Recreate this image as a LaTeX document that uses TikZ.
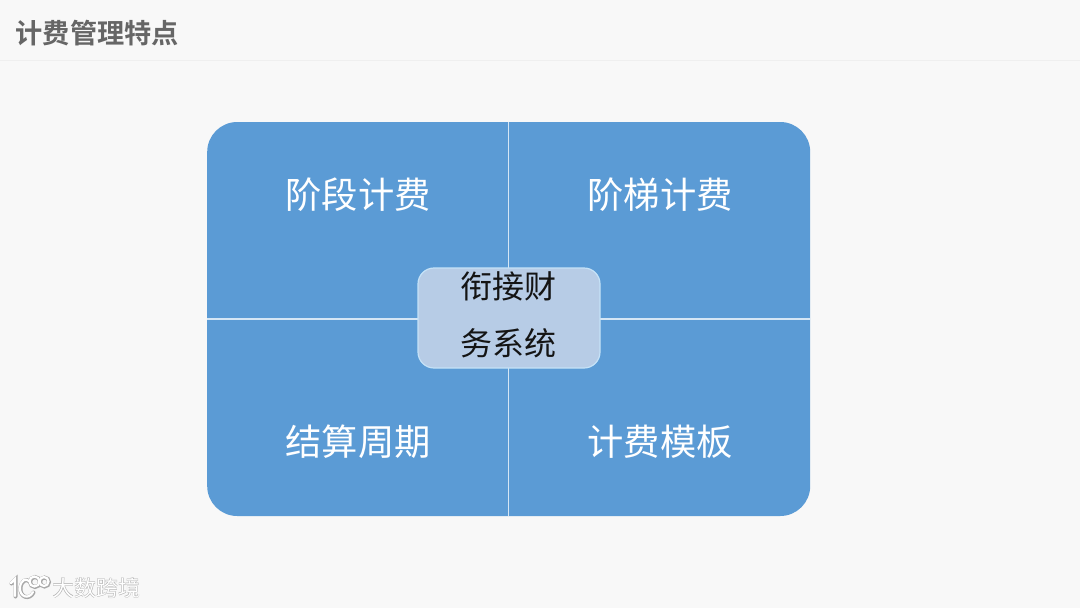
\documentclass[tikz,border=0pt]{standalone}
\usepackage{fontspec}
\newfontfamily\cjk{Noto Sans CJK SC}
\newfontfamily\cjkbold{Noto Sans CJK SC Bold}
\definecolor{bgc}{HTML}{F8F8F8}
\definecolor{rulec}{HTML}{EFEFEF}
\definecolor{titlec}{HTML}{666666}
\definecolor{panelc}{HTML}{5B9BD5}
\definecolor{crossc}{HTML}{D5E6F5}
\definecolor{centerc}{HTML}{B7CCE6}
\definecolor{centerb}{HTML}{C5E2F7}
\definecolor{markc}{HTML}{FFFFFF}
\definecolor{marks}{HTML}{A8A8A8}
\tikzset{
  x=1pt,y=-1pt,
  panelbox/.style={fill=panelc,draw=none,rounded corners=30pt,minimum width=603pt,minimum height=394pt,inner sep=0pt,anchor=center},
  centerbox/.style={fill=centerc,draw=centerb,line width=1.2pt,rounded corners=16pt,minimum width=182pt,minimum height=100pt,inner sep=0pt,anchor=center},
  divider/.style={draw=crossc,line width=1.2pt},
  quad/.style={text=white,font=\cjk\fontsize{36.3}{40}\selectfont,inner sep=0pt,anchor=center},
  centertext/.style={text=black!92,font=\cjk\fontsize{32}{36}\selectfont,inner sep=0pt,anchor=center},
  titletext/.style={text=titlec,font=\cjkbold\fontsize{27.2}{30}\selectfont,inner sep=0pt,anchor=west},
  marktext/.style={text=markc,font=\cjk\fontsize{22}{24}\selectfont,inner sep=0pt,anchor=west},
  markshadow/.style={text=marks,font=\cjkbold\fontsize{22}{24}\selectfont,inner sep=0pt,anchor=west},
  logoline/.style={draw=markc,line width=2.2pt,line cap=round},
  logoshadow/.style={draw=marks,line width=4pt,line cap=round},
}
\begin{document}
\begin{tikzpicture}
\useasboundingbox (0,0) rectangle (1080,608);
\fill[bgc] (0,0) rectangle (1080,608);
\coordinate (ruleL) at (0,60.5);
\coordinate (ruleR) at (1080,60.5);
\draw[rulec,line width=0.8pt] (ruleL) -- (ruleR);
\node[titletext] (title) at (15.5,33) {计费管理特点};
\node[panelbox] (panel) at (508.7,319) {};
\draw[divider] (panel.north) -- (panel.south);
\draw[divider] (panel.west) -- (panel.east);
\node[quad] (q1) at (358,195) {阶段计费};
\node[quad] (q2) at (660,195) {阶梯计费};
\node[quad] (q3) at (358,441.5) {结算周期};
\node[quad] (q4) at (660,441.5) {计费模板};
\node[centerbox] (center) at (509,318) {};
\node[centertext] (c1) at (508.5,286) {衔接财};
\node[centertext] (c2) at (508.5,343) {务系统};
% watermark
\foreach \s/\o in {logoshadow/0.5,logoline/0}{
  \draw[\s] (11+\o,583+\o) -- (15+\o,579+\o) -- (15+\o,596+\o);
  \draw[\s] (33+\o,592+\o) .. controls (29+\o,600+\o) and (19+\o,597+\o) .. (20+\o,587+\o) .. controls (21+\o,580+\o) and (26+\o,578+\o) .. (29+\o,581+\o);
  \draw[\s] (34.5+\o,581.5+\o) circle[radius=5];
  \draw[\s] (44+\o,581.5+\o) circle[radius=4.5];
}
\node[markshadow] (wms) at (52.4,588.4) {大数跨境};
\node[marktext] (wm) at (52,588) {大数跨境};
\end{tikzpicture}
\end{document}
